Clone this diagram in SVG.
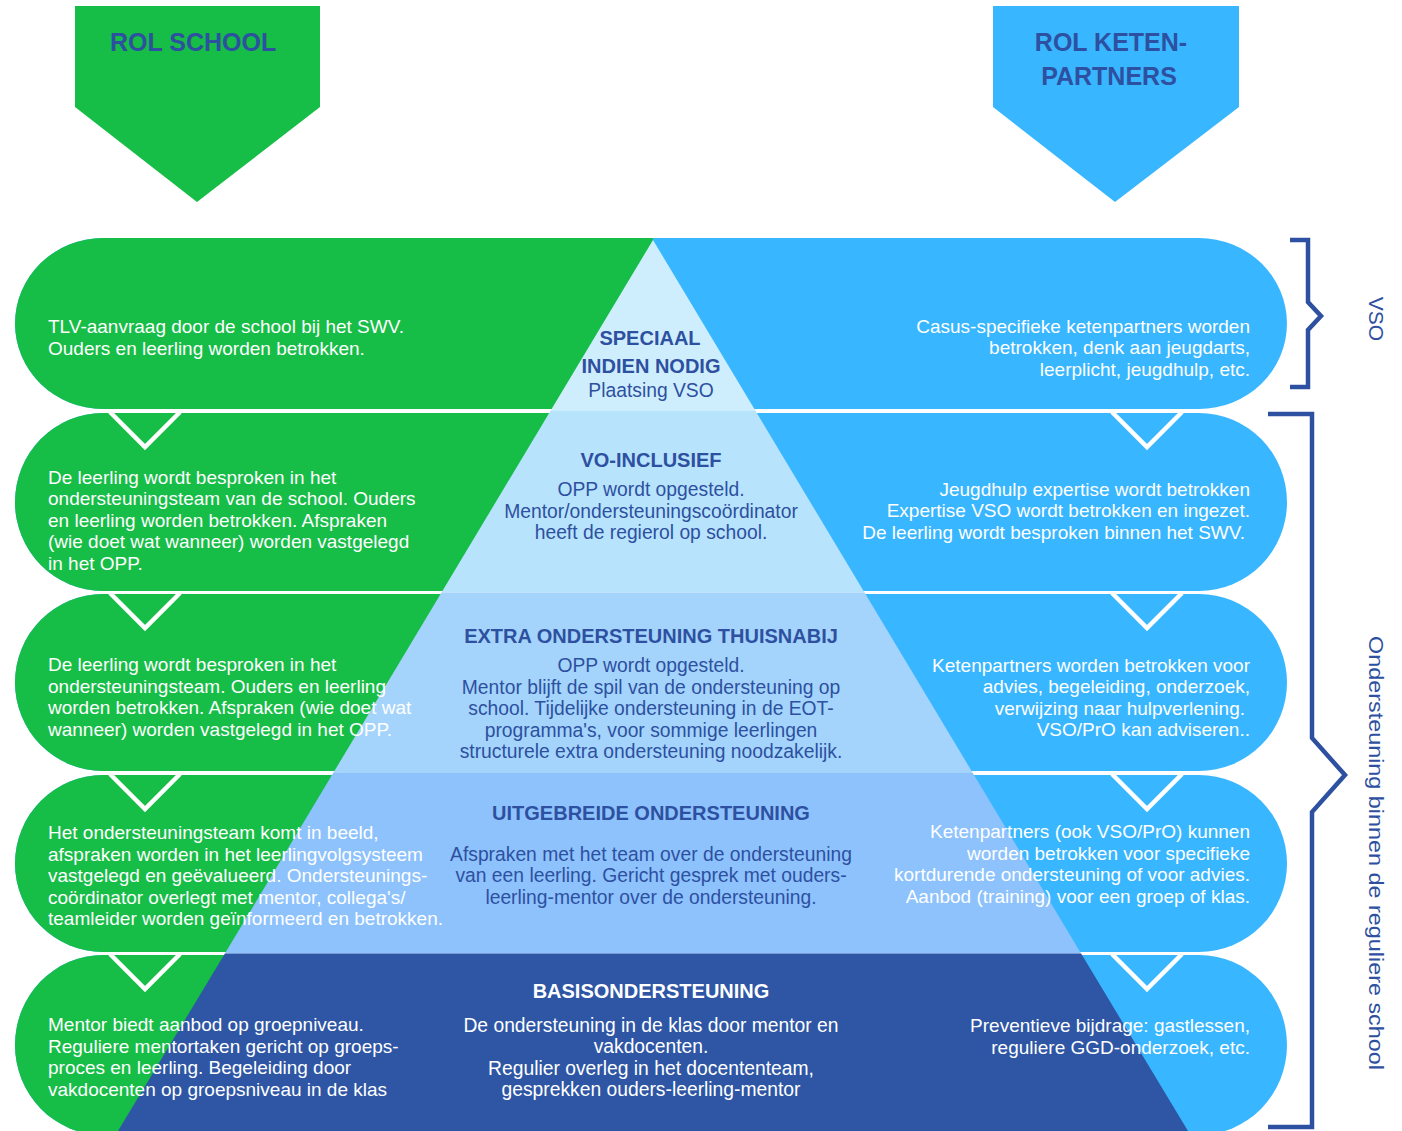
<svg xmlns="http://www.w3.org/2000/svg" width="1402" height="1131" viewBox="0 0 1402 1131">
<style>
.body{font-family:"Liberation Sans",Arial,sans-serif;font-size:19px;fill:#ffffff}
.mid{font-family:"Liberation Sans",Arial,sans-serif;font-size:19.3px;fill:#2d50a0;text-anchor:middle}
.ttl{font-family:"Liberation Sans",Arial,sans-serif;font-size:20px;font-weight:bold;fill:#2d50a0;text-anchor:middle}
.hdr{font-family:"Liberation Sans",Arial,sans-serif;font-size:25px;font-weight:bold;fill:#2d50a0}
.end{text-anchor:end}
.side{font-family:"Liberation Sans",Arial,sans-serif;font-size:21px;fill:#2d50a0;text-anchor:middle}
.green{fill:#16bd46}
.blue{fill:#38b6ff}
.chev{fill:none;stroke:#ffffff;stroke-width:4.5}
.brace{fill:none;stroke:#2d50a0;stroke-width:4.5;stroke-linejoin:miter}
</style>
<defs>
<clipPath id="leftHalf"><rect x="0" y="0" width="653" height="1131"/></clipPath>
</defs>
<rect x="0" y="0" width="1402" height="1131" fill="#ffffff"/>

<g id="header-school">
<polygon class="green" points="75,6 320,6 320,107 197,202 75,107"/>
<text class="hdr" x="110" y="51">ROL SCHOOL</text>
</g>
<g id="header-ketenpartners">
<polygon class="blue" points="993,6 1239,6 1239,107 1115,202 993,107"/>
<text class="hdr" x="1111" y="51" text-anchor="middle">ROL KETEN-</text>
<text class="hdr" x="1109" y="85" text-anchor="middle">PARTNERS</text>
</g>

<g id="row1">
<path class="blue" d="M103,238 H1199 A88,85.5 0 0 1 1199,409 H103 A88,85.5 0 0 1 103,238 Z"/>
<path class="green" clip-path="url(#leftHalf)" d="M103,238 H1199 A88,85.5 0 0 1 1199,409 H103 A88,85.5 0 0 1 103,238 Z"/>
</g>
<g id="row2">
<path class="blue" d="M103,413 H1199 A88,89 0 0 1 1199,591 H103 A88,89 0 0 1 103,413 Z"/>
<path class="green" clip-path="url(#leftHalf)" d="M103,413 H1199 A88,89 0 0 1 1199,591 H103 A88,89 0 0 1 103,413 Z"/>
</g>
<g id="row3">
<path class="blue" d="M103,594 H1199 A88,88.5 0 0 1 1199,771 H103 A88,88.5 0 0 1 103,594 Z"/>
<path class="green" clip-path="url(#leftHalf)" d="M103,594 H1199 A88,88.5 0 0 1 1199,771 H103 A88,88.5 0 0 1 103,594 Z"/>
</g>
<g id="row4">
<path class="blue" d="M103,775 H1199 A88,88.5 0 0 1 1199,952 H103 A88,88.5 0 0 1 103,775 Z"/>
<path class="green" clip-path="url(#leftHalf)" d="M103,775 H1199 A88,88.5 0 0 1 1199,952 H103 A88,88.5 0 0 1 103,775 Z"/>
</g>
<g id="row5">
<path class="blue" d="M103,955 H1199 A88,90 0 0 1 1199,1135 H103 A88,90 0 0 1 103,955 Z"/>
<path class="green" clip-path="url(#leftHalf)" d="M103,955 H1199 A88,90 0 0 1 1199,1135 H103 A88,90 0 0 1 103,955 Z"/>
</g>

<g id="pyramid">
<polygon fill="#cfeefd" points="653,240 755.6,411 550.4,411"/>
<polygon fill="#b8e3fc" points="550.4,411 755.6,411 864.5,592.5 441.5,592.5"/>
<polygon fill="#a4d4fb" points="441.5,592.5 864.5,592.5 972.8,773 333.2,773"/>
<polygon fill="#8dc2fd" points="333.2,773 972.8,773 1081.1,953.5 224.9,953.5"/>
<polygon fill="#2e56a5" points="224.9,953.5 1081.1,953.5 1188,1131 118,1131"/>
</g>

<g id="connectors">
<polyline class="chev" points="110,412 145,447 180,412"/>
<polyline class="chev" points="1112,412 1147,447 1182,412"/>
<polyline class="chev" points="110,593 145,628 180,593"/>
<polyline class="chev" points="1112,593 1147,628 1182,593"/>
<polyline class="chev" points="110,774 145,809 180,774"/>
<polyline class="chev" points="1112,774 1147,809 1182,774"/>
<polyline class="chev" points="110,954 145,989 180,954"/>
<polyline class="chev" points="1112,954 1147,989 1182,954"/>
</g>

<g id="level-speciaal">
<text class="ttl" x="650" y="345">SPECIAAL</text>
<text class="ttl" x="651" y="373">INDIEN NODIG</text>
<text class="mid" x="651" y="397">Plaatsing VSO</text>
</g>
<g id="level-vo-inclusief">
<text class="ttl" x="651" y="467">VO-INCLUSIEF</text>
<text class="mid" x="651" y="496">OPP wordt opgesteld.</text>
<text class="mid" x="651" y="518">Mentor/ondersteuningscoördinator</text>
<text class="mid" x="651" y="539">heeft de regierol op school.</text>
</g>
<g id="level-extra">
<text class="ttl" x="651" y="643">EXTRA ONDERSTEUNING THUISNABIJ</text>
<text class="mid" x="651" y="672">OPP wordt opgesteld.</text>
<text class="mid" x="651" y="694">Mentor blijft de spil van de ondersteuning op</text>
<text class="mid" x="651" y="715">school. Tijdelijke ondersteuning in de EOT-</text>
<text class="mid" x="651" y="737">programma's, voor sommige leerlingen</text>
<text class="mid" x="651" y="758">structurele extra ondersteuning noodzakelijk.</text>
</g>
<g id="level-uitgebreid">
<text class="ttl" x="651" y="820">UITGEBREIDE ONDERSTEUNING</text>
<text class="mid" x="651" y="861">Afspraken met het team over de ondersteuning</text>
<text class="mid" x="651" y="882">van een leerling. Gericht gesprek met ouders-</text>
<text class="mid" x="651" y="904">leerling-mentor over de ondersteuning.</text>
</g>
<g id="level-basis">
<text class="ttl" x="651" y="998" style="fill:#ffffff">BASISONDERSTEUNING</text>
<text class="mid" x="651" y="1032" style="fill:#ffffff">De ondersteuning in de klas door mentor en</text>
<text class="mid" x="651" y="1053" style="fill:#ffffff">vakdocenten.</text>
<text class="mid" x="651" y="1075" style="fill:#ffffff">Regulier overleg in het docententeam,</text>
<text class="mid" x="651" y="1096" style="fill:#ffffff">gesprekken ouders-leerling-mentor</text>
</g>

<g id="school-texts">
<text class="body" x="48" y="333">TLV-aanvraag door de school bij het SWV.</text>
<text class="body" x="48" y="355">Ouders en leerling worden betrokken.</text>

<text class="body" x="48" y="484">De leerling wordt besproken in het</text>
<text class="body" x="48" y="505">ondersteuningsteam van de school. Ouders</text>
<text class="body" x="48" y="527">en leerling worden betrokken. Afspraken</text>
<text class="body" x="48" y="548">(wie doet wat wanneer) worden vastgelegd</text>
<text class="body" x="48" y="570">in het OPP.</text>

<text class="body" x="48" y="671">De leerling wordt besproken in het</text>
<text class="body" x="48" y="693">ondersteuningsteam. Ouders en leerling</text>
<text class="body" x="48" y="714">worden betrokken. Afspraken (wie doet wat</text>
<text class="body" x="48" y="736">wanneer) worden vastgelegd in het OPP.</text>

<text class="body" x="48" y="839">Het ondersteuningsteam komt in beeld,</text>
<text class="body" x="48" y="861">afspraken worden in het leerlingvolgsysteem</text>
<text class="body" x="48" y="882">vastgelegd en geëvalueerd. Ondersteunings-</text>
<text class="body" x="48" y="904">coördinator overlegt met mentor, collega's/</text>
<text class="body" x="48" y="925">teamleider worden geïnformeerd en betrokken.</text>

<text class="body" x="48" y="1031">Mentor biedt aanbod op groepniveau.</text>
<text class="body" x="48" y="1053">Reguliere mentortaken gericht op groeps-</text>
<text class="body" x="48" y="1074">proces en leerling. Begeleiding door</text>
<text class="body" x="48" y="1096">vakdocenten op groepsniveau in de klas</text>
</g>

<g id="keten-texts">
<text class="body end" x="1250" y="333">Casus-specifieke ketenpartners worden</text>
<text class="body end" x="1250" y="354">betrokken, denk aan jeugdarts,</text>
<text class="body end" x="1250" y="376">leerplicht, jeugdhulp, etc.</text>

<text class="body end" x="1250" y="496">Jeugdhulp expertise wordt betrokken</text>
<text class="body end" x="1250" y="517">Expertise VSO wordt betrokken en ingezet.</text>
<text class="body end" x="1245" y="539">De leerling wordt besproken binnen het SWV.</text>

<text class="body end" x="1250" y="672">Ketenpartners worden betrokken voor</text>
<text class="body end" x="1250" y="693">advies, begeleiding, onderzoek,</text>
<text class="body end" x="1245" y="715">verwijzing naar hulpverlening.</text>
<text class="body end" x="1250" y="736">VSO/PrO kan adviseren..</text>

<text class="body end" x="1250" y="838">Ketenpartners (ook VSO/PrO) kunnen</text>
<text class="body end" x="1250" y="860">worden betrokken voor specifieke</text>
<text class="body end" x="1250" y="881">kortdurende ondersteuning of voor advies.</text>
<text class="body end" x="1250" y="903">Aanbod (training) voor een groep of klas.</text>

<text class="body end" x="1250" y="1032">Preventieve bijdrage: gastlessen,</text>
<text class="body end" x="1250" y="1054">reguliere GGD-onderzoek, etc.</text>
</g>

<g id="brace-vso">
<polyline class="brace" points="1290,240 1308,240 1308,302 1321,316 1308,330 1308,387 1290,387"/>
<text class="side" transform="translate(1369,319) rotate(90)">VSO</text>
</g>
<g id="brace-regulier">
<polyline class="brace" points="1268,414 1312,414 1312,738 1345,775 1312,812 1312,1127 1268,1127"/>
<text class="side" transform="translate(1369,853) rotate(90)" textLength="434" lengthAdjust="spacingAndGlyphs">Ondersteuning binnen de reguliere school</text>
</g>
</svg>
